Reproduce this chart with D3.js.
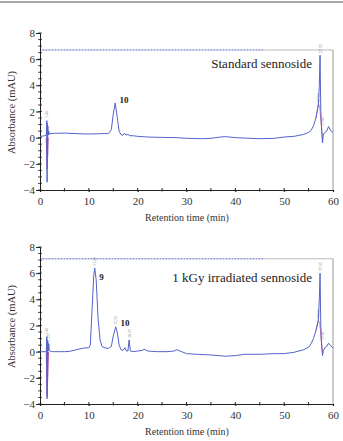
<!DOCTYPE html>
<html>
<head>
<meta charset="utf-8">
<script src="https://cdn.jsdelivr.net/npm/d3@7"></script>
<style>
  body { margin: 0; background: #fff; }
</style>
</head>
<body>
<svg id="chart" width="343" height="441"></svg>
<script>
// x ticks and y ticks
const xTicks = [0, 10, 20, 30, 40, 50, 60];
const yTicks = [-4, -2, 0, 2, 4, 6, 8];

// standard sennoside trace [time (min), absorbance (mAU)]
const standardTrace = [
  [0, 0.1], [0.5, 0.12], [1.0, 0.15], [1.3, 0.2], [1.4, 1.3], [1.45, -3.4],
  [1.5, 1.1], [1.55, -1.5], [1.6, 0.9], [1.7, 0.2], [1.8, 0.5], [1.9, 0.25],
  [2.0, 0.3], [2.5, 0.32], [3, 0.33], [5, 0.35], [8, 0.3], [10, 0.28],
  [12, 0.3], [14, 0.32], [14.6, 0.6], [15.0, 1.8], [15.4, 2.65], [15.8, 1.6],
  [16.2, 0.5], [16.6, 0.22], [17.0, 0.2], [17.3, 0.35], [17.6, 0.2],
  [18.0, 0.25], [18.4, 0.15], [19, 0.15], [20, 0.1], [22, 0.05], [25, 0.02],
  [28, 0], [30, -0.05], [33, -0.08], [35, -0.05], [37, 0.05], [38, 0.08],
  [40, 0], [43, -0.05], [45, -0.08], [48, -0.05], [50, 0.05], [52, 0.1],
  [54, 0.25], [55, 0.4], [55.5, 0.55], [56, 0.9], [56.5, 1.5], [57, 2.5],
  [57.2, 4.0], [57.35, 6.3], [57.5, 2.0], [57.7, 0.5], [57.85, -0.4],
  [58.0, 0.2], [58.3, 0.4], [58.7, 0.5], [59.1, 0.85], [59.5, 0.55], [60, 0.4]
];

// 1 kGy irradiated sennoside trace
const irradiatedTrace = [
  [0, 0], [0.5, 0], [1.0, 0], [1.3, 0.05], [1.4, 1.15], [1.45, -3.6],
  [1.5, 0.9], [1.55, -2.0], [1.6, 0.8], [1.7, 0.1], [1.8, 0.6], [1.9, 0.1],
  [2.0, 0.05], [2.5, 0], [3, 0], [4, 0], [5, 0], [6, 0.02], [7, 0.1],
  [8, 0.2], [9, 0.28], [10, 0.3], [10.3, 0.5], [10.7, 3.5], [11.0, 5.8],
  [11.2, 6.4], [11.5, 5.5], [11.9, 2.5], [12.3, 0.9], [12.7, 0.4], [13.2, 0.3],
  [14, 0.25], [14.6, 0.4], [15.0, 1.2], [15.5, 1.9], [15.8, 1.5], [16.2, 0.5],
  [16.6, 0.15], [17.0, 0.1], [17.4, 0.3], [17.7, 0.05], [18.0, 0.05],
  [18.25, 0.9], [18.5, 0.05], [19, 0], [20, 0.05], [21, 0.1], [21.3, 0.2],
  [22, 0.05], [24, 0], [26, 0], [27.5, 0.05], [28, 0.15], [29, 0],
  [30, -0.15], [32, -0.2], [35, -0.25], [38, -0.35], [40, -0.3], [42, -0.2],
  [45, -0.2], [48, -0.15], [50, -0.15], [52, -0.05], [54, 0.15], [55, 0.35],
  [55.5, 0.6], [56, 1.0], [56.5, 1.6], [57, 2.4], [57.2, 4.0], [57.35, 6.0],
  [57.5, 2.0], [57.7, 0.3], [57.85, -0.3], [58, 0.0], [58.3, 0.3],
  [58.7, 0.4], [59.1, 0.65], [59.5, 0.45], [60, 0.3]
];

// magenta integration overlays
const standardPinkSpike = [[1.3, 0], [1.45, -2.4], [1.65, 0]];
const standardPinkTail = [[56.5, 1.5], [57, 2.6], [57.3, 2.3], [57.6, 0.9], [57.9, -0.2]];
const irradiatedPinkSpike = [[1.3, 0], [1.45, -3.4], [1.7, 0]];
const irradiatedPinkTail = [[56.5, 1.6], [57, 2.4], [57.3, 2.2], [57.6, 0.8], [57.9, -0.1]];

// small retention-time markers above peaks [time, absorbance]
const standardMarkers = [[1.4, 1.5], [57.35, 6.45], [57.0, 2.7], [57.85, 0.9]];
const irradiatedMarkers = [[1.4, 1.3], [1.75, 0.8], [11.2, 6.55], [15.5, 2.05], [18.25, 1.05], [57.35, 6.15], [57.0, 2.6], [57.85, 0.9]];

// peak number labels [text, time, absorbance]
const standardPeakLabels = [["10", 17.2, 2.67]];
const irradiatedPeakLabels = [["9", 12.6, 5.5], ["10", 17.4, 1.97]];

const panels = [
  { title: "Standard sennoside", trace: standardTrace, pink: [standardPinkSpike, standardPinkTail],
    markers: standardMarkers, labels: standardPeakLabels, top: 33, bottom: 190, header: 6.7 },
  { title: "1 kGy irradiated sennoside", trace: irradiatedTrace, pink: [irradiatedPinkSpike, irradiatedPinkTail],
    markers: irradiatedMarkers, labels: irradiatedPeakLabels, top: 247, bottom: 404, header: 7.1 }
];

const serif = "'Liberation Serif', 'Times New Roman', 'DejaVu Serif', serif";
const svg = d3.select("#chart").style("font-family", serif);
const blue = "#5363cc";
const pink = "#c2449c";

svg.append("line")
  .attr("x1", 0).attr("x2", 343).attr("y1", 2).attr("y2", 2)
  .attr("stroke", "#8a8a8a").attr("stroke-width", 1.5);

const xScale = d3.scaleLinear().domain([0, 60]).range([40, 333]);

panels.forEach((p) => {
  const yScale = d3.scaleLinear().domain([-4, 8]).range([p.bottom, p.top]);
  const g = svg.append("g");

  // frame + instrument header strip
  const hy = yScale(p.header);
  g.append("line").attr("x1", xScale(0.5)).attr("x2", xScale(46))
    .attr("y1", hy).attr("y2", hy)
    .attr("stroke", "#8d98da").attr("stroke-width", 1.4).attr("stroke-dasharray", "2,1");
  g.append("line").attr("x1", xScale(46)).attr("x2", xScale(60))
    .attr("y1", hy).attr("y2", hy).attr("stroke", "#aaa").attr("stroke-width", 0.8);
  g.append("line").attr("x1", xScale(60)).attr("x2", xScale(60))
    .attr("y1", hy).attr("y2", p.bottom).attr("stroke", "#999").attr("stroke-width", 1);
  g.append("line").attr("x1", 40).attr("x2", xScale(0.5))
    .attr("y1", hy).attr("y2", hy).attr("stroke", "#aaa").attr("stroke-width", 0.8);

  // axes
  const yAxis = g.append("g").attr("transform", "translate(40,0)")
    .call(d3.axisLeft(yScale).tickValues(yTicks).tickSize(4)
      .tickFormat((d) => (d < 0 ? "\u2212" + Math.abs(d) : d)));
  yAxis.attr("font-family", null);
  yAxis.select(".domain").attr("stroke", "#222");
  yAxis.selectAll("line").attr("stroke", "#222");
  yAxis.selectAll("text").attr("font-size", 11).attr("fill", "#333")
    .style("font-family", serif).attr("x", -5);

  g.append("g").selectAll("line")
    .data(d3.range(-4, 8.01, 0.5))
    .join("line")
    .attr("x1", 38).attr("x2", 42)
    .attr("y1", (d) => yScale(d)).attr("y2", (d) => yScale(d))
    .attr("stroke", "#222").attr("stroke-width", 0.8);

  const xAxis = g.append("g").attr("transform", `translate(0,${p.bottom})`)
    .call(d3.axisBottom(xScale).tickValues(xTicks).tickSize(2).tickPadding(5));
  xAxis.attr("font-family", null);
  xAxis.select(".domain").attr("stroke", "#222").attr("stroke-width", 1.2);
  xAxis.selectAll("line").attr("stroke", "#222");
  xAxis.selectAll("text").attr("font-size", 11).attr("fill", "#333")
    .style("font-family", serif);

  g.append("g").selectAll("line")
    .data(d3.range(5, 60, 5))
    .join("line")
    .attr("x1", (d) => xScale(d)).attr("x2", (d) => xScale(d))
    .attr("y1", p.bottom - 2).attr("y2", p.bottom + 1.5)
    .attr("stroke", "#222").attr("stroke-width", 1);

  g.append("text")
    .attr("x", 187).attr("y", p.bottom + 31)
    .attr("text-anchor", "middle").attr("font-size", 10).attr("fill", "#333")
    .style("font-family", serif)
    .text("Retention time (min)");

  g.append("text")
    .attr("transform", `translate(15,${(p.top + p.bottom) / 2 + 1}) rotate(-90)`)
    .attr("text-anchor", "middle").attr("font-size", 10.5).attr("fill", "#333")
    .style("font-family", serif)
    .text("Absorbance (mAU)");

  g.append("text")
    .attr("x", 312).attr("y", p.top + 35)
    .attr("text-anchor", "end").attr("font-size", 13).attr("fill", "#222")
    .style("font-family", serif)
    .text(p.title);

  const line = d3.line().x((d) => xScale(d[0])).y((d) => yScale(d[1]));

  // magenta overlays
  g.append("path").datum(p.pink[0])
    .attr("d", line).attr("fill", pink).attr("fill-opacity", 0.7)
    .attr("stroke", pink).attr("stroke-width", 1.2);
  g.append("path").datum(p.pink[1])
    .attr("d", line).attr("fill", "none")
    .attr("stroke", "#d67ab8").attr("stroke-width", 1);

  g.append("path").datum(p.trace)
    .attr("d", line).attr("fill", "none")
    .attr("stroke", blue).attr("stroke-width", 1);

  g.selectAll(".marker").data(p.markers).join("text")
    .attr("class", "marker")
    .attr("transform", (d) => `translate(${xScale(d[0]) + 1.5},${yScale(d[1])}) rotate(-90)`)
    .attr("font-size", 4).attr("fill", "#888")
    .text((d) => d[0].toFixed(2));

  g.selectAll(".peak").data(p.labels).join("text")
    .attr("class", "peak")
    .attr("x", (d) => xScale(d[1])).attr("y", (d) => yScale(d[2]))
    .attr("text-anchor", "middle").attr("font-size", 9).attr("font-weight", "bold")
    .attr("fill", "#222")
    .style("font-family", serif)
    .text((d) => d[0]);
});
</script>
</body>
</html>
